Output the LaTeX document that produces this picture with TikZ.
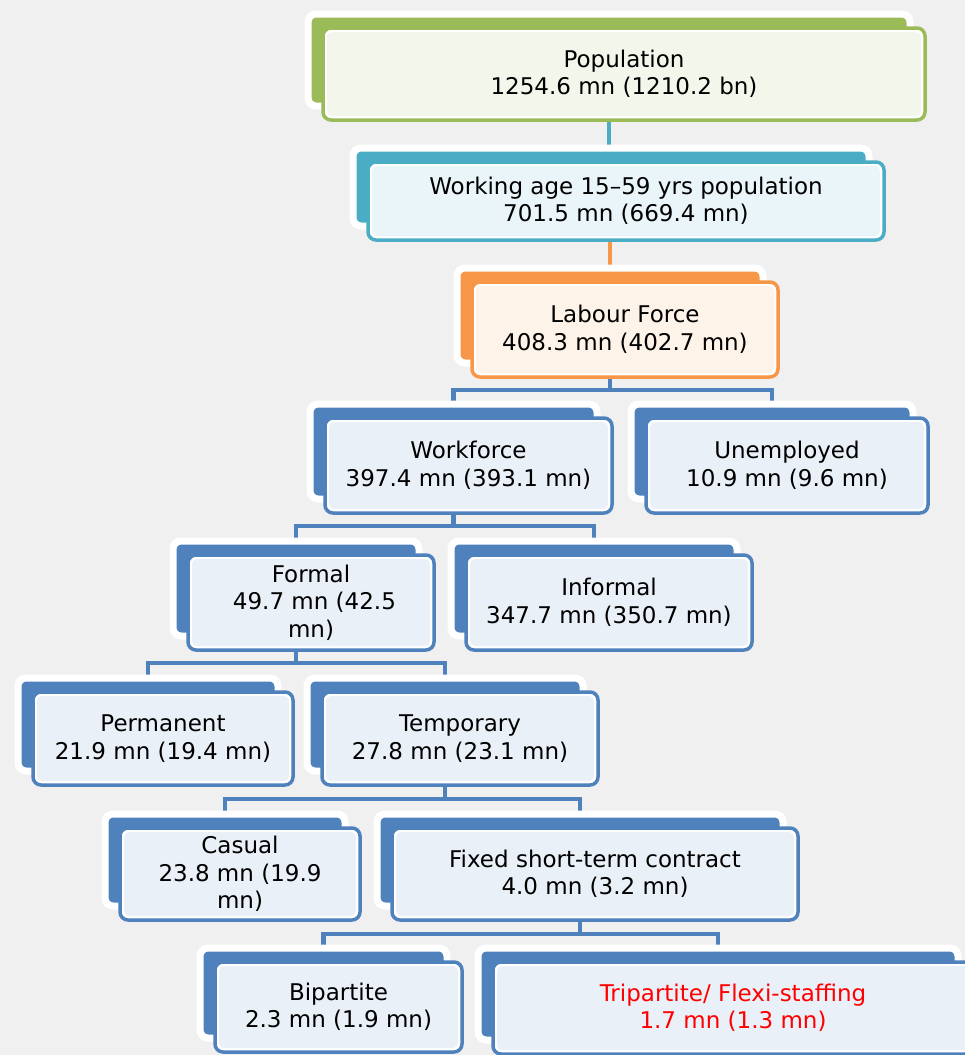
\documentclass[tikz,border=0pt]{standalone}
\usepackage{fontspec}
\setmainfont{DejaVu Sans}
\usepackage{tikz}
\usetikzlibrary{backgrounds}
\definecolor{popgreen}{HTML}{9BBB59}
\definecolor{agecyan}{HTML}{4BACC6}
\definecolor{lforange}{HTML}{F79646}
\definecolor{wfblue}{HTML}{4F81BD}
\definecolor{canvasgray}{HTML}{F0F0F0}
\definecolor{flexired}{HTML}{FF0000}

\begin{document}
\begin{tikzpicture}[x=1pt, y=-1pt,
    box/.style={rectangle, rounded corners=8pt, draw=#1, line width=3.5pt, fill=white,
      align=center, inner sep=0pt, font=\fontsize{23}{27.5}\selectfont,
      preaction={fill=#1, draw=white, line width=7pt, transform canvas={shift={(-15pt,14pt)}}},
      path picture={\fill[#1!12, rounded corners=5pt]
        ([shift={(4pt,-4pt)}]path picture bounding box.north west) rectangle
        ([shift={(-4pt,4pt)}]path picture bounding box.south east);}},
    box/.default=wfblue,
    link/.style={draw=#1, line width=4.5pt},
    link/.default=wfblue]
    \useasboundingbox (0,0) rectangle (965,1055);

    % top chain
    \node[box=popgreen, minimum width=602pt, minimum height=92pt] (pop) at (624,74)
      {Population\\1254.6 mn (1210.2 bn)};
    \node[box=agecyan, minimum width=516pt, minimum height=78pt] (age) at (626,201)
      {Working age 15--59 yrs population\\701.5 mn (669.4 mn)};
    \node[box=lforange, minimum width=306pt, minimum height=95pt] (lab) at (625,329.5)
      {Labour Force\\408.3 mn (402.7 mn)};

    % lower levels
    \node[box, minimum width=287pt, minimum height=95pt] (wf) at (468.5,465.5)
      {Workforce\\397.4 mn (393.1 mn)};
    \node[box, minimum width=282pt, minimum height=95pt] (unemp) at (787,465.5)
      {Unemployed\\10.9 mn (9.6 mn)};
    \node[box, minimum width=246pt, minimum height=95pt] (formal) at (311,602.5)
      {Formal\\\hspace*{.3em}49.7 mn (42.5\\mn)};
    \node[box, minimum width=286pt, minimum height=95pt] (informal) at (609,602.5)
      {Informal\\347.7 mn (350.7 mn)};
    \node[box, minimum width=260pt, minimum height=93pt] (perm) at (163,738.5)
      {Permanent\\21.9 mn (19.4 mn)};
    \node[box, minimum width=276pt, minimum height=93pt] (temp) at (460,738.5)
      {Temporary\\27.8 mn (23.1 mn)};
    \node[box, minimum width=240pt, minimum height=92pt] (casual) at (240,874)
      {Casual\\23.8 mn (19.9\\mn)};
    \node[box, minimum width=406pt, minimum height=92pt] (fixed) at (595,874)
      {Fixed short-term contract\\4.0 mn (3.2 mn)};
    \node[box, minimum width=247pt, minimum height=90pt] (bip) at (338.5,1007)
      {Bipartite\\2.3 mn (1.9 mn)};
    \node[box, minimum width=480pt, minimum height=92pt, text=flexired] (tri) at (733,1008)
      {Tripartite/ Flexi-staffing\\1.7 mn (1.3 mn)};

    \begin{scope}[on background layer]
      \fill[canvasgray] (0,0) rectangle (965,1055);
      \draw[link=agecyan] ([xshift=-15pt]pop.south) -- ([xshift=-15pt]pop.south |- age.north);
      \draw[link=lforange] ([xshift=-15pt]lab.north) -- ([xshift=-15pt]lab.north |- age.south);
      \draw[link] ([xshift=-15pt]lab.south) -- ++(0,11) coordinate (j1);
      \draw[link] ([xshift=-15pt]wf.north) |- (j1) -| ([xshift=-15pt]unemp.north);
      \draw[link] ([xshift=-15pt]wf.south) -- ++(0,11) coordinate (j2);
      \draw[link] ([xshift=-15pt]formal.north) |- (j2) -| ([xshift=-15pt]informal.north);
      \draw[link] ([xshift=-15pt]formal.south) -- ++(0,11) coordinate (j3);
      \draw[link] ([xshift=-15pt]perm.north) |- (j3) -| ([xshift=-15pt]temp.north);
      \draw[link] ([xshift=-15pt]temp.south) -- ++(0,12) coordinate (j4);
      \draw[link] ([xshift=-15pt]casual.north) |- (j4) -| ([xshift=-15pt]fixed.north);
      \draw[link] ([xshift=-15pt]fixed.south) -- ++(0,12) coordinate (j5);
      \draw[link] ([xshift=-15pt]bip.north) |- (j5) -| ([xshift=-15pt]tri.north);
    \end{scope}
\end{tikzpicture}
\end{document}
